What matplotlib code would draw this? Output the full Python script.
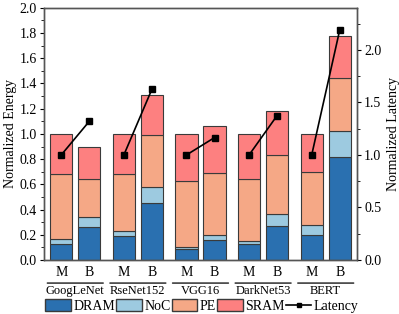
import numpy as np
import matplotlib
matplotlib.use('Agg')
import matplotlib.pyplot as plt
from matplotlib.patches import Patch
from matplotlib.lines import Line2D

plt.rcParams['font.family'] = 'serif'
plt.rcParams['font.serif'] = ['Liberation Serif', 'DejaVu Serif']
plt.rcParams['mathtext.fontset'] = 'stix'
plt.rcParams['font.size'] = 10

models = ['GoogLeNet', 'RseNet152', 'VGG16', 'DarkNet53', 'BERT']
configs = ['M', 'B']

# stacked energy (segment heights), order: M, B per model
dram = [0.13, 0.26, 0.19, 0.455, 0.09, 0.155, 0.13, 0.27, 0.20, 0.82]
noc = [0.04, 0.08, 0.04, 0.125, 0.01, 0.04, 0.02, 0.095, 0.08, 0.205]
pe = [0.51, 0.30, 0.455, 0.41, 0.53, 0.495, 0.495, 0.47, 0.42, 0.42]
sram = [0.32, 0.26, 0.315, 0.32, 0.37, 0.37, 0.355, 0.345, 0.30, 0.335]
latency = [1.0, 1.32, 1.0, 1.625, 1.0, 1.165, 1.0, 1.375, 1.0, 2.19]

c_dram = '#2a70b0'
c_noc = '#9dcae0'
c_pe = '#f5a886'
c_sram = '#fd8080'

pitch = 2.235
x = []
for i in range(len(models)):
    x += [i*pitch, i*pitch+1]
x = np.array(x)

fig = plt.figure(figsize=(3.99, 3.14), dpi=100)
ax = fig.add_axes([0.110, 0.172, 0.785, 0.803])
w = 0.8
ek = dict(width=w, edgecolor='#3a3a3a', linewidth=0.8)
b0 = np.zeros(len(x))
for vals, col in [(dram, c_dram), (noc, c_noc), (pe, c_pe), (sram, c_sram)]:
    ax.bar(x, vals, bottom=b0, color=col, **ek)
    b0 = b0 + np.array(vals)

ax.set_ylim(0, 2.0)
ax.set_xlim(x[0]-0.62, x[-1]+0.62)
ax.set_yticks(np.arange(0, 2.01, 0.2))
ax.set_yticks(np.arange(0, 2.01, 0.1), minor=True)
ax.set_ylabel('Normalized Energy', labelpad=2)
ax.set_xticks(x)
ax.set_xticklabels(configs*len(models))
ax.tick_params(axis='x', length=0, pad=4)
ax.tick_params(axis='y', direction='out', length=3, pad=2)
ax.tick_params(axis='y', which='minor', length=2)

ax2 = ax.twinx()
for i in range(len(models)):
    ax2.plot(x[2*i:2*i+2], latency[2*i:2*i+2], color='black', marker='s',
             markersize=4, linewidth=1.2)
ax2.set_ylim(0, 2.4)
ax2.set_yticks(np.arange(0, 2.01, 0.5))
ax2.set_yticks(np.arange(0, 2.41, 0.25), minor=True)
ax2.set_ylabel('Normalized Latency', labelpad=4)
ax2.tick_params(axis='y', direction='out', length=3, pad=2)
ax2.tick_params(axis='y', which='minor', length=2)

for a in (ax, ax2):
    for s in a.spines.values():
        s.set_color('#555555')
        s.set_linewidth(1.0)

# group separators and names
for i, m in enumerate(models):
    x0 = x[2*i] - 0.6
    x1 = x[2*i+1] + 0.6
    ax.annotate('', xy=(x0, -0.183), xytext=(x1, -0.183),
                arrowprops=dict(arrowstyle='-', color='black', lw=0.9), annotation_clip=False)
    ax.text((x0+x1)/2, -0.2, m, ha='center', va='top', fontsize=9)

handles = [Patch(facecolor=c_dram, edgecolor='#3a3a3a', label='DRAM'),
           Patch(facecolor=c_noc, edgecolor='#3a3a3a', label='NoC'),
           Patch(facecolor=c_pe, edgecolor='#3a3a3a', label='PE'),
           Patch(facecolor=c_sram, edgecolor='#3a3a3a', label='SRAM'),
           Line2D([], [], color='black', marker='s', markersize=3, linewidth=1.2, label='Latency')]
fig.legend(handles=handles, loc='center', bbox_to_anchor=(0.506, 0.025), ncol=5, frameon=False,
           handlelength=1.85, handleheight=0.9, handletextpad=0.15, columnspacing=0.1,
           borderpad=0, fontsize=10)

fig.savefig('out.png', dpi=100)
